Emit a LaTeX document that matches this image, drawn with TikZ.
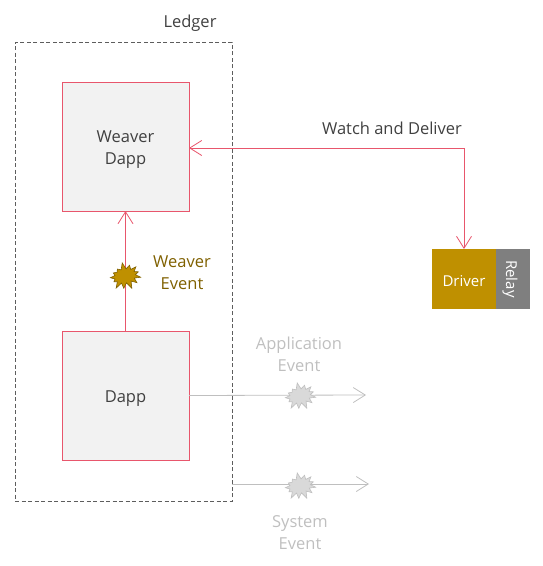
\documentclass[tikz,border=0pt]{standalone}
\usepackage{fontspec}
\setmainfont{Open Sans}
\usetikzlibrary{arrows.meta,shapes.symbols,positioning}
\definecolor{redline}{HTML}{E8566C}
\definecolor{gold}{HTML}{BF9000}
\definecolor{brown}{HTML}{7F6000}
\definecolor{palegrey}{HTML}{BFBFBF}
\definecolor{boxfill}{HTML}{F2F2F2}
\definecolor{relaygrey}{HTML}{7F7F7F}
\definecolor{textgrey}{HTML}{404040}
\newcommand{\lowerline}{\rule{0pt}{18pt}}
\tikzset{
  x=1pt,y=-1pt,
  every node/.style={font=\fontsize{16.5}{22}\selectfont,align=center,inner sep=0pt,outer sep=0pt},
  smalltext/.style={font=\fontsize{15}{20}\selectfont},
  dappbox/.style={draw=redline,fill=boxfill,minimum width=127pt,minimum height=129pt,text=textgrey,line width=0.8pt},
  redarrow/.style={draw=redline,line width=0.8pt,-{Straight Barb[length=12pt,width=15pt,line width=0.8pt]}},
  greyarrow/.style={draw=palegrey,line width=0.8pt,-{Straight Barb[length=12pt,width=15pt,line width=0.8pt]}},
  burst/.style={starburst,starburst points=13,starburst point height=7pt,random starburst=7,minimum width=35pt,minimum height=28pt,line width=0.6pt,rotate=12},
  goldburst/.style={burst,draw=brown,fill=gold},
  greyburst/.style={burst,draw=palegrey,fill=palegrey!60},
}
\begin{document}
\begin{tikzpicture}
\useasboundingbox (0,0) rectangle (543,566);
\node[draw=textgrey!85,dash pattern=on 4pt off 2.5pt,line width=0.5pt,minimum width=217pt,minimum height=459pt] (ledger) at (123.5,271.5) {};
\node[text=textgrey] (ledgerlabel) at (190,23) {Ledger};
\node[dappbox] (weaver) at (125.5,146.5) {\lowerline Weaver\\Dapp};
\node[dappbox] (dapp) at (125.5,395.5) {\lowerline Dapp};
\node[fill=gold,text=white,smalltext,minimum width=64pt,minimum height=60pt] (driver) at (464,279) {\rule{0pt}{16pt}Driver};
\node[fill=relaygrey,minimum width=34pt,minimum height=60pt] (relay) at (513,279) {};
\node[rotate=-90,text=white,smalltext] (relaylabel) at (510,279) {Relay};
\node[text=textgrey] (watch) at (392,128) {Watch and Deliver};
\node[text=brown] (weaverevent) at (182,273) {Weaver\\Event};
\node[text=palegrey] (appevent) at (299,354) {Application\\Event};
\node[text=palegrey] (sysevent) at (300,533) {System\\Event};
\coordinate (corner) at (464,148);
\coordinate (append) at (366,395);
\coordinate (sysstart) at (232,484);
\coordinate (sysend) at (369,484);
\draw[redarrow] (dapp.north) -- (weaver.south);
\draw[redarrow] (corner) -- (weaver.east |- corner);
\draw[redarrow] (corner) -- (driver.north);
\draw[greyarrow] (dapp.east) -- (append);
\draw[greyarrow] (sysstart) -- (sysend);
\node[goldburst] (burst1) at (125,276) {};
\node[greyburst] (burst2) at (300,396) {};
\node[greyburst] (burst3) at (300,486) {};
\end{tikzpicture}
\end{document}
